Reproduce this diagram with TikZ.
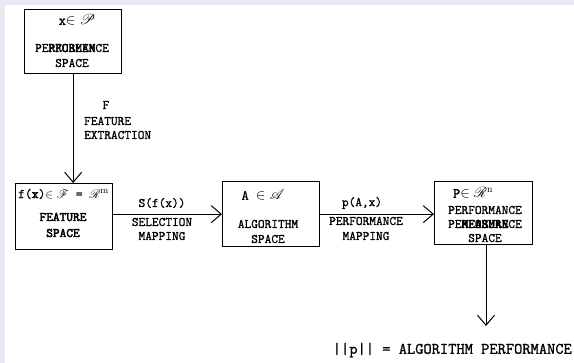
\documentclass[tikz,border=0pt]{standalone}
\usepackage{fontspec}
\usepackage{mathrsfs}
\usetikzlibrary{arrows.meta}
\newfontfamily\tw{Latin Modern Mono}[FakeBold=1.2]
\newfontfamily\twb{Latin Modern Mono}[FakeBold=3.2]
\definecolor{frame}{HTML}{E8E8F2}
\tikzset{
  box/.style={draw, line width=1.3pt, inner sep=0pt, anchor=north west},
  conn/.style={line width=1pt, -{Straight Barb[length=10pt,width=17pt,line width=1pt]}},
  txt/.style={font=\fontsize{13}{15}\selectfont\tw, inner sep=0pt},
  btxt/.style={font=\fontsize{13}{15}\selectfont\twb, inner sep=0pt},
  mtxt/.style={font=\fontsize{14}{16}\selectfont\tw, inner sep=0pt},
  ftxt/.style={font=\fontsize{13.2}{15}\selectfont\tw, inner sep=0pt},
  bigtxt/.style={font=\fontsize{16}{18}\selectfont\tw, inner sep=0pt},
}
\begin{document}
\begin{tikzpicture}[x=1pt,y=-1pt]
  \useasboundingbox (0,0) rectangle (574,363);
  \fill[white] (0,0) rectangle (574,363);
  \fill[frame] (0,0) rectangle (574,5);
  \fill[frame] (0,0) rectangle (5,363);

  % boxes
  \node[box, minimum width=97pt, minimum height=64pt] (prob) at (24,9) {};
  \node[box, minimum width=97pt, minimum height=66pt] (feat) at (15,183) {};
  \node[box, minimum width=97pt, minimum height=65pt] (alg) at (222,181) {};
  \node[box, minimum width=98pt, minimum height=63pt] (perf) at (434,181) {};

  % problem space text
  \node[mtxt] (probm) at (77,20) {x$\in\mathscr{P}$};
  \node[txt] (probl1a) at (72,48) {PERFORMANCE};
  \node[txt] (probl1b) at (72,48) {PROBLEM};
  \node[txt] (probl2) at (72,63) {SPACE};

  % feature space text
  \node[ftxt] (featm) at (63.5,194) {f({\twb x})$\in\mathscr{F}$ = $\mathscr{R}^{\mathrm{m}}$};
  \node[btxt] (featl1) at (63,217) {FEATURE};
  \node[btxt] (featl2) at (63,233) {SPACE};

  % algorithm space text
  \node[mtxt] (algm) at (263,195) {A $\in\mathscr{A}$};
  \node[txt] (algl1) at (268,224) {ALGORITHM};
  \node[txt] (algl2) at (268,239) {SPACE};

  % performance measure space text
  \node[mtxt] (perfm) at (473,193) {P$\in\mathscr{R}^{\mathrm{n}}$};
  \node[txt] (perfl1) at (485,210) {PERFORMANCE};
  \node[txt] (perfl2a) at (485,224) {PERFORMANCE};
  \node[btxt] (perfl2b) at (485,224) {MEASURE};
  \node[txt] (perfl3) at (485,238) {SPACE};

  % connectors
  \draw[conn] (prob.south) -- (prob.south |- feat.north);
  \draw[conn] (feat.east |- alg.west) -- (alg.west);
  \draw[conn] (alg.east) -- (alg.east -| perf.west);
  \coordinate (pend) at (486,326);
  \draw[conn] (perf.south -| pend) -- (pend);

  % connector labels
  \node[txt] (fx1) at (106,105) {F};
  \node[txt, anchor=west] (fx2) at (84,121) {FEATURE};
  \node[txt, anchor=west] (fx3) at (84,135) {EXTRACTION};

  \node[txt] (sel1) at (162,203) {S(f(x))};
  \node[txt] (sel2) at (162,222) {SELECTION};
  \node[txt] (sel3) at (162,236) {MAPPING};

  \node[txt] (pm1) at (362,203) {p(A,x)};
  \node[txt] (pm2) at (366,221) {PERFORMANCE};
  \node[txt] (pm3) at (366,236) {MAPPING};

  \node[bigtxt, anchor=east] (res) at (572,350) {||p|| = ALGORITHM PERFORMANCE};
\end{tikzpicture}
\end{document}
